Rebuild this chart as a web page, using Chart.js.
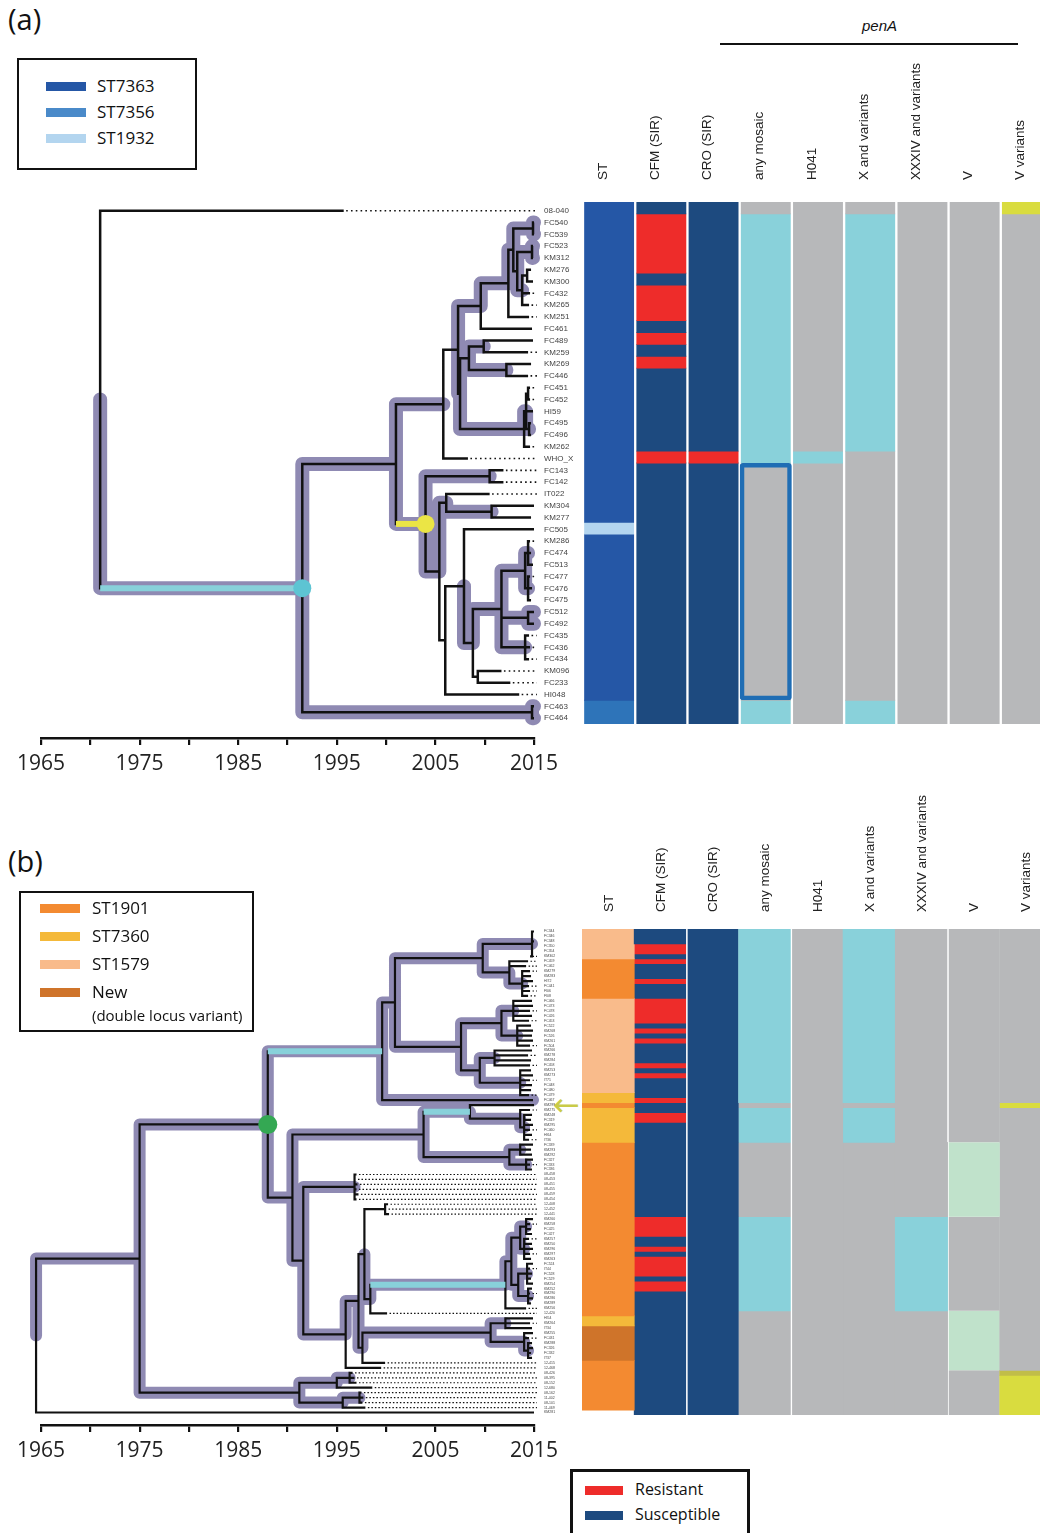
<!DOCTYPE html>
<html>
<head>
<meta charset="utf-8">
<script src="https://cdn.jsdelivr.net/npm/chart.js@4.4.1/dist/chart.umd.min.js"></script>
<style>
  html, body { margin: 0; padding: 0; background: #fff; overflow: hidden; }
  body { width: 1040px; height: 1533px; position: relative; font-family: "Open Sans", sans-serif; color: #111; }
  .abs { position: absolute; }
  .legend { position: absolute; border: 2.5px solid #111; box-sizing: border-box; }
  .txt { position: absolute; white-space: nowrap; line-height: 1; }
</style>
</head>
<body>
<div class="txt" style="left:8px;top:4px;font-size:29px;">(a)</div>
<div class="txt" style="left:8px;top:846px;font-size:29px;">(b)</div>
<div class="txt" style="left:862px;top:18px;font-size:15px;font-style:italic;font-family:'Liberation Sans';">penA</div>
<div class="abs" style="left:720px;top:43px;width:298px;height:2px;background:#111;"></div>
<div class="txt" style="left:553px;top:1089px;font-size:32px;color:#c9cb48;font-family:'DejaVu Sans';">&#8592;</div>

<canvas id="treeA" class="abs" width="580" height="590" style="left:0;top:190px;width:580px;height:590px;"></canvas>
<canvas id="heatA" class="abs" width="470" height="684" style="left:583px;top:40px;width:470px;height:684px;"></canvas>
<canvas id="treeB" class="abs" width="580" height="567" style="left:0;top:900px;width:580px;height:567px;"></canvas>
<canvas id="heatB" class="abs" width="470" height="635" style="left:582px;top:780px;width:470px;height:635px;"></canvas>

<script>
// ---------- shared ----------
const yearTicks = [1965, 1970, 1975, 1980, 1985, 1990, 1995, 2000, 2005, 2010, 2015];
const yearLabels = [1965, 1975, 1985, 1995, 2005, 2015];
const heatCols = ['ST', 'CFM (SIR)', 'CRO (SIR)', 'any mosaic', 'H041', 'X and variants', 'XXXIV and variants', 'V', 'V variants'];
const stateColour = {
  R: '#ee2c2a', S: '#1d4a7f', yes: '#89d1da', no: '#b7b8ba', var: '#d9dc3f', varDark: '#c1bd48', V: '#c0e2cb',
  ST7363: '#2557a6', ST7356: '#2e74b9', ST1932: '#b3d5ef',
  ST1901: '#f38a31', ST7360: '#f4b93a', ST1579: '#f9bb8b', New: '#cf742a'
};

// ---------- panel (a) tree ----------
const leavesA = ['08-040','FC540','FC539','FC523','KM312','KM276','KM300','FC432','KM265','KM251','FC461','FC489','KM259','KM269','FC446',
  'FC451','FC452','HI59','FC495','FC496','KM262','WHO_X','FC143','FC142','IT022','KM304','KM277','FC505','KM286','FC474','FC513',
  'FC477','FC476','FC475','FC512','FC492','FC435','FC436','FC434','KM096','FC233','HI048','FC463','FC464'];
const leafParentA = ['r','P1','P1','P2','P2','P3','P3','I3','I3','H','G','R1','R1','R2','R2','Qa','Qa','Q1','Qb','Qb','Q','D','S','S',
  'U','U2','U2','W','Y1a','Y1a','Y1a','Y1b','Y1b','Y1b','Y2','Y2','Y3','Y3','Y3','Z','Z','V','C','C'];
const leafYearA = [1995.7,2015.0,2015.0,2014.9,2014.9,2014.7,2014.9,2014.6,2014.5,2014.5,2014.8,2014.9,2014.4,2014.7,2014.4,
  2014.6,2014.6,2014.9,2014.7,2014.7,2014.6,2008.3,2011.9,2011.9,2010.5,2015.0,2014.7,2015.0,2014.6,2014.7,2014.9,
  2014.6,2014.8,2014.7,2015.0,2015.0,2014.5,2014.6,2014.5,2011.7,2012.6,2013.5,2015.0,2015.0];
const nodeIdA = ['r','A','B','C','D','E','F','F2','G','H','I','P1','I2','P2','I3','P3','R','R1','R2','Q',
  'Q1','Qa','Qb','S','T','U','U2','V','W','X','Y','Y1','Y1a','Y1b','Y2','Y3','Z'];
const nodeParentA = [null,'r','A','A','B','B','D','F','F','G','H','I','I','I2','I2','I3','F2','R','R','F2',
  'Q','Q1','Q1','E','E','T','U','T','V','W','X','Y','Y1','Y1','Y','Y','X'];
const nodeYearA = [1971.0,1991.5,2001.0,2014.8,2005.8,2004.0,2007.3,2007.5,2009.6,2012.4,2012.9,2014.9,2013.3,2014.8,2013.8,2014.3,2008.4,2009.9,2012.2,2014.0,
  2014.2,2014.4,2014.5,2010.5,2005.4,2006.1,2010.7,2006.0,2007.9,2008.8,2011.7,2014.1,2014.4,2014.4,2014.4,2014.1,2009.3];
const purpleA = ['A','B','C','FC463','FC464','D','E','G','F2','R','R1','R2','Q','Q1','Qb','H','I','P1','I2','P2','I3',
  'FC540','FC539','FC523','KM312','S','T','U','U2','X','Y','Y1','Y1a','Y1b','Y2','Y3','FC512','FC492'];
const cyanA = ['A'];
const yellowA = ['E'];
const dotsA = [['A', '#5dc4d3'], ['E', '#ebe545']];

// ---------- panel (a) heat map: [state, firstRow, endRow) ----------
const stA = [['ST7363',0,27],['ST1932',27,28],['ST7363',28,42],['ST7356',42,44]];
const cfmA = [['S',0,1],['R',1,6],['S',6,7],['R',7,10],['S',10,11],['R',11,12],['S',12,13],['R',13,14],['S',14,21],['R',21,22],['S',22,44]];
const croA = [['S',0,21],['R',21,22],['S',22,44]];
const mosaicA = [['no',0,1],['yes',1,22],['no',22,42],['yes',42,44]];
const h041A = [['no',0,21],['yes',21,22],['no',22,44]];
const xA = [['no',0,1],['yes',1,21],['no',21,42],['yes',42,44]];
const xxxivA = [['no',0,44]];
const vA = [['no',0,44]];
const vVarA = [['var',0,1],['no',1,44]];
const boxA = [22, 42];

// ---------- panel (b) tree ----------
const leavesB = ['FC344','FC346','FC348','FC350','FC354','KM302',
  'FC459','FC462','KM279','KM283','HI72','FC441','FI06','FI08',
  'FC466','FC473','FC478','FC426','FC453',
  'FC522','KM268','FC526','KM261','FC504',
  'KM266','KM278','KM284','FC458',
  'KM253','KM273','IT71','FC448','FC480','FC479',
  'FC467','KM299','KM275',
  'KM248','FC319','KM295','FC460','HI64','IT36',
  'FC339','KM293','KM292','FC327','FC333','FC336',
  '08-458','08-453','08-451','08-455','08-459','08-454',
  '12-408','12-452','12-441',
  'KM260','KM258','FC425','FC427',
  'KM257','KM250','KM296','KM297','KM263',
  'FC524','IT44','FC528','FC529','KM254',
  'KM252','KM290','KM286','KM289',
  'KM256','12-420',
  'HI54','KM264','IT34',
  'KM255','FC431','KM288','FC326','FC332','IT37',
  '12-415','12-468',
  '08-426','08-395','08-152','12-680',
  '08-162','11-402','08-101','11-469',
  'KM281'];
const leafParentB = ['N16a','N16a','N16a','N16a','N16a','N16a',
  'N16b','N16b','N16c','N16c','N16c','N16c','N16c','N16c',
  'N18a','N18a','N18a','N18a','N18a',
  'N18b','N18b','N18b','N18b','N18b',
  'N19a','N19a','N19a','N19a',
  'N19b','N19b','N19b','N19b','N19b','N19b',
  'N4','N6a','N6c',
  'N6c2','N6c2','N6c2','N6c2','N6c2','N6c2',
  'N6b1','N6b1','N6b1','N6b2','N6b2','N6b2',
  'N8','N8','N8','N8','N8','N8',
  'N11a','N11a','N11a',
  'N14d','N14d','N14d','N14d',
  'N14e','N14e','N14e','N14e','N14e',
  'N14f','N14f','N14f','N14f','N14f',
  'N14g','N14g','N14g','N14g',
  'N14','N11c',
  'N12a','N12a','N12a',
  'N12b','N12b','N12c','N12c','N12c','N12c',
  'N13','N9',
  'N3c','N3c','N3c','N3a',
  'N3d','N3d','N3d','N3b',
  'r'];
const leafYearB = [2015.0,2014.9,2015.0,2014.8,2014.9,2014.6,
  2014.4,2014.2,2014.6,2014.7,2014.9,2014.5,2014.6,2014.4,
  2014.8,2014.9,2014.6,2014.8,2014.5,
  2014.7,2014.9,2014.8,2014.9,2014.6,
  2014.8,2014.4,2014.7,2014.6,
  2014.7,2014.9,2014.6,2014.8,2014.7,2014.5,
  2014.9,2015.0,2014.6,
  2014.8,2014.7,2014.9,2014.6,2014.8,2014.5,
  2014.9,2014.7,2014.8,2014.9,2014.6,2014.8,
  1997.0,1996.9,1997.1,1997.0,1997.2,1997.0,
  2000.2,2000.0,2000.3,
  2014.9,2014.6,2014.7,2014.8,
  2014.5,2014.8,2014.9,2014.6,2014.7,
  2014.9,2014.6,2014.8,2014.7,2014.9,
  2014.8,2014.6,2014.9,2014.7,
  2014.2,2000.1,
  2014.9,2014.6,2014.8,
  2014.9,2014.5,2014.8,2014.9,2014.7,2014.8,
  1999.9,1999.5,
  1996.6,1996.8,1997.0,1998.6,
  1997.5,1997.7,1997.6,1997.9,
  2015.0];
const nodeIdB = ['r','N1','N2','N3','N3a','N3b','N3c','N3d','N4','N15',
  'N16','N16a','N16b','N16c','N17','N18','N18a','N18b','N19','N19a',
  'N19b','N5','N6','N6a','N6c','N6c2','N6b','N6b1','N6b2','N7',
  'N8','N9','N10','N11','N11a','N11c','N14','N14a','N14b','N14c',
  'N14d','N14e','N14f','N14g','N13','N12','N12a','N12b','N12c'];
const nodeParentB = [null,'r','N1','N1','N3','N3','N3a','N3b','N2','N4',
  'N15','N16','N16','N16b','N15','N17','N18','N18','N17','N19',
  'N19','N2','N5','N6','N6a','N6c','N6','N6b','N6b','N5',
  'N7','N7','N9','N10','N11','N11','N11c','N14','N14a','N14a',
  'N14b','N14b','N14c','N14c','N10','N13','N12','N12','N12b'];
const nodeYearB = [1964.5,1975.0,1988.0,1991.2,1995.0,1995.6,1996.3,1997.3,1999.6,2000.9,
  2009.8,2014.8,2012.5,2013.8,2007.6,2011.7,2012.9,2013.3,2009.5,2011.0,
  2013.6,1990.5,2003.8,2008.5,2013.6,2014.0,2012.5,2013.6,2014.2,1991.6,
  1996.8,1995.9,1997.2,1997.8,1999.9,1998.4,2012.1,2012.7,2013.6,2013.4,
  2014.2,2014.0,2014.3,2014.4,1997.6,2010.6,2012.1,2014.0,2014.4];
const purpleB = ['N1','N2','N3','N3a','N3b','N3c','N3d','N4','N15','N16','N16a','N16b','N16c','N17','N18','N18a','N18b',
  'N19','N19a','N19b','FC467','N5','N6','N6a','N6c','N6c2','N6b','N6b1','N6b2','N7','N8','N9','N10','N13','N12',
  'N12a','N12b','N12c','N11c','N14','N14a','N14b','N14c','N14d','N14e','N14f','N14g'];
const cyanB = ['N4','N6a','N14'];
const dotsB = [['N2', '#34a853']];

// ---------- panel (b) heat map ----------
const stB = [['ST1579',0,6],['ST1901',6,14],['ST1579',14,33],['ST7360',33,35],['ST1901',35,36],['ST7360',36,43],
  ['ST1901',43,78],['ST7360',78,80],['New',80,87],['ST1901',87,97]];
const cfmB = [['S',0,3],['R',3,5],['S',5,6],['R',6,7],['S',7,10],['R',10,11],['S',11,14],['R',14,19],['S',19,20],['R',20,21],
  ['S',21,22],['R',22,23],['S',23,27],['R',27,28],['S',28,29],['R',29,30],['S',30,34],['R',34,35],['S',35,37],['R',37,39],
  ['S',39,58],['R',58,62],['S',62,64],['R',64,65],['S',65,66],['R',66,70],['S',70,71],['R',71,73],['S',73,98]];
const croB = [['S',0,98]];
const mosaicB = [['yes',0,35],['no',35,36],['yes',36,43],['no',43,58],['yes',58,77],['no',77,98]];
const h041B = [['no',0,98]];
const xB = [['yes',0,35],['no',35,36],['yes',36,43],['no',43,98]];
const xxxivB = [['no',0,58],['yes',58,77],['no',77,98]];
const vB = [['no',0,43],['V',43,58],['no',58,77],['V',77,89],['no',89,98]];
const vVarB = [['no',0,35],['var',35,36],['no',36,89],['varDark',89,90],['var',90,98]];

// ---------- legends ----------
const legendA = [['ST7363', '#2557a6'], ['ST7356', '#4a8ac9'], ['ST1932', '#b3d5ef']];
const legendB = [['ST1901', '#f38a31'], ['ST7360', '#f4b93a'], ['ST1579', '#f9bb8b'], ['New', '#cf742a']];
const legendSIR = [['Resistant', '#ee2c2a'], ['Susceptible', '#1d4a7f']];

Chart.defaults.animation = false;
Chart.defaults.events = [];
Chart.defaults.font.family = 'Liberation Sans';
Chart.defaults.plugins.legend.display = false;
Chart.defaults.plugins.tooltip.enabled = false;
Chart.defaults.elements.point.radius = 0;

function layoutTree(leaves, leafParent, leafYear, nodeId, nodeParent, nodeYear) {
  const pos = {};
  leaves.forEach((name, i) => { pos[name] = { x: leafYear[i], y: i, parent: leafParent[i] }; });
  nodeId.forEach((id, i) => { pos[id] = { x: nodeYear[i], y: null, parent: nodeParent[i], kids: [] }; });
  Object.keys(pos).forEach(k => { if (pos[k].parent) pos[pos[k].parent].kids.push(k); });
  const place = id => {
    const n = pos[id];
    if (n.y === null) {
      const ys = n.kids.map(place);
      n.y = (Math.min(...ys) + Math.max(...ys)) / 2;
    }
    return n.y;
  };
  nodeId.forEach(place);
  return pos;
}

function drawTree(canvasId, t) {
  const pos = t.pos;
  const gap = { x: null, y: null };
  const edges = Object.keys(pos).filter(k => pos[k].parent);
  const elbow = ids => ids.flatMap(id => {
    const n = pos[id], p = pos[n.parent];
    return [{ x: p.x, y: p.y }, { x: p.x, y: n.y }, { x: n.x, y: n.y }, gap];
  });
  const flat = ids => ids.flatMap(id => {
    const n = pos[id], p = pos[n.parent];
    return [{ x: p.x, y: n.y }, { x: n.x, y: n.y }, gap];
  });
  const tails = t.leaves.flatMap(name => pos[name].x < 2014.65
    ? [{ x: pos[name].x + 0.25, y: pos[name].y }, { x: 2015.3, y: pos[name].y }, gap] : []);

  const datasets = [
    { data: t.dots.map(d => ({ x: pos[d[0]].x, y: pos[d[0]].y })), pointRadius: t.dotR,
      pointBackgroundColor: t.dots.map(d => d[1]), pointBorderWidth: 0, order: 0 },
    ...t.colour.map(c => ({ data: flat(c[0]), showLine: true, borderColor: c[1], borderWidth: 6, order: 1 })),
    { data: elbow(edges), showLine: true, borderColor: '#111', borderWidth: t.bw, order: 2 },
    { data: tails, showLine: true, borderColor: '#111', borderWidth: t.dw, borderDash: t.dash, order: 3 },
    { data: elbow(t.purple), showLine: true, borderColor: '#8f8ab3', borderWidth: t.pw,
      borderCapStyle: 'round', borderJoinStyle: 'round', order: 4 }
  ].map(d => Object.assign(d, { clip: false }));

  new Chart(document.getElementById(canvasId), {
    type: 'scatter',
    data: { datasets },
    options: {
      responsive: false,
      layout: { padding: { left: 41, top: t.padTop, right: 0, bottom: 2 } },
      scales: {
        x: {
          type: 'linear', min: 1965, max: 2015, position: 'bottom',
          afterBuildTicks: s => { s.ticks = yearTicks.map(v => ({ value: v })); },
          afterFit: s => { s.height = 40; },
          grid: { drawOnChartArea: false, drawTicks: true, tickLength: 7, color: '#111', lineWidth: 2.2 },
          border: { display: true, color: '#111', width: 2.6 },
          ticks: { autoSkip: false, maxRotation: 0, padding: 6, color: '#222',
            font: { size: 21, family: 'Open Sans' },
            callback: v => yearLabels.includes(v) ? String(v) : '' }
        },
        y: {
          type: 'linear', reverse: true, min: -0.5, max: t.yMax, position: 'right',
          afterBuildTicks: s => { s.ticks = t.leaves.map((_, i) => ({ value: i })); },
          afterFit: s => { s.width = 46; },
          grid: { display: false, drawTicks: false }, border: { display: false },
          ticks: { autoSkip: false, padding: 10, color: '#444', font: { size: t.labelSize },
            callback: v => t.leaves[v] }
        }
      }
    }
  });
}

function drawHeat(canvasId, cols, nRows, h) {
  const nSeg = Math.max(...cols.map(c => c.length));
  const datasets = [];
  for (let j = 0; j < nSeg; j++) {
    datasets.push({
      data: cols.map(c => c[j] ? [c[j][1], c[j][2]] : null),
      backgroundColor: cols.map(c => c[j] ? stateColour[c[j][0]] : 'rgba(0,0,0,0)'),
      borderColor: '#fff',
      borderWidth: ctx => h.sep.includes(ctx.dataIndex) ? { left: 1.6, right: 0, top: 0, bottom: 0 } : 0,
      borderSkipped: false, inflateAmount: 0.4,
      barPercentage: 1, categoryPercentage: h.catPct
    });
  }
  if (h.box) {
    datasets.push({
      data: cols.map((c, i) => i === h.box[0] ? [h.box[1], h.box[2]] : null),
      backgroundColor: 'rgba(0,0,0,0)',
      borderColor: cols.map((c, i) => i === h.box[0] ? '#1f6db4' : 'rgba(0,0,0,0)'),
      borderWidth: cols.map((c, i) => i === h.box[0] ? 4.5 : 0),
      borderRadius: 3, borderSkipped: false, inflateAmount: 0,
      barPercentage: 1.06, categoryPercentage: h.catPct, order: -1
    });
  }
  new Chart(document.getElementById(canvasId), {
    type: 'bar',
    data: { labels: heatCols, datasets },
    options: {
      responsive: false,
      layout: { padding: 0 },
      scales: {
        x: {
          type: 'category', position: 'top', stacked: true,
          afterFit: s => { s.height = h.headH; s.paddingLeft = 0; s.paddingRight = 0; },
          grid: { display: false, drawTicks: false }, border: { display: false },
          ticks: { autoSkip: false, minRotation: 90, maxRotation: 90, padding: h.pad, labelOffset: h.off,
            color: '#222', font: { size: 13.5 } }
        },
        y: { type: 'linear', display: false, reverse: true, min: 0, max: nRows, stacked: false }
      }
    }
  });
}

function addLegend(box, items, o) {
  const el = document.createElement('div');
  el.className = 'legend';
  Object.assign(el.style, { left: box[0] + 'px', top: box[1] + 'px', width: box[2] + 'px', height: box[3] + 'px', borderWidth: o.bw + 'px' });
  items.forEach((it, k) => {
    const cy = o.y0 + k * o.dy;
    const sw = document.createElement('div');
    Object.assign(sw.style, { position: 'absolute', left: o.sx + 'px', top: (cy - 4.5) + 'px', width: o.sw + 'px', height: '9px', background: it[1] });
    const tx = document.createElement('div');
    tx.className = 'txt';
    tx.textContent = it[0];
    Object.assign(tx.style, { left: o.tx + 'px', top: (cy - o.fs * 0.55) + 'px', fontSize: o.fs + 'px' });
    el.appendChild(sw); el.appendChild(tx);
  });
  if (o.note) {
    const tx = document.createElement('div');
    tx.className = 'txt';
    tx.textContent = o.note[0];
    Object.assign(tx.style, { left: o.tx + 'px', top: o.note[1] + 'px', fontSize: o.note[2] + 'px' });
    el.appendChild(tx);
  }
  document.body.appendChild(el);
}

// ---------- draw ----------
const rowA = 522 / leavesA.length;   // heat map rows 202..724
const rowB = 486 / leavesB.length;   // heat map rows 929..1415

drawTree('treeA', {
  pos: layoutTree(leavesA, leafParentA, leafYearA, nodeIdA, nodeParentA, nodeYearA),
  leaves: leavesA, purple: purpleA, colour: [[cyanA, '#88d1da'], [yellowA, '#ebe545']], dots: dotsA,
  dotR: 9, bw: 2.5, pw: 14, dw: 1.6, dash: [1.6, 3.2], labelSize: 8,
  padTop: 12.07, yMax: -0.5 + 536 / rowA
});
drawTree('treeB', {
  pos: layoutTree(leavesB, leafParentB, leafYearB, nodeIdB, nodeParentB, nodeYearB),
  leaves: leavesB, purple: purpleB, colour: [[cyanB, '#88d1da']], dots: dotsB,
  dotR: 9.5, bw: 2.2, pw: 12, dw: 1.2, dash: [1.5, 2], labelSize: 3.5,
  padTop: 29, yMax: -0.5 + 496 / rowB
});
drawHeat('heatA', [stA, cfmA, croA, mosaicA, h041A, xA, xxxivA, vA, vVarA], leavesA.length,
  { headH: 162, pad: 22, off: 10, catPct: 0.94, sep: [], box: [3, boxA[0], boxA[1]] });
drawHeat('heatB', [stB, cfmB, croB, mosaicB, h041B, xB, xxxivB, vB, vVarB], leavesB.length,
  { headH: 149, pad: 17, off: 17, catPct: 1, sep: [2, 4, 7], box: null });

addLegend([17, 58, 180, 112], legendA, { bw: 2.5, y0: 26.5, dy: 26, sx: 27, sw: 40, tx: 78, fs: 17 });
addLegend([19, 891, 235, 141], legendB, { bw: 2.5, y0: 15.5, dy: 28, sx: 19, sw: 40, tx: 71, fs: 17,
  note: ['(double locus variant)', 115, 15] });
addLegend([570, 1469, 180, 80], legendSIR, { bw: 3, y0: 18, dy: 25, sx: 12, sw: 38, tx: 62, fs: 16 });
</script>
</body>
</html>
